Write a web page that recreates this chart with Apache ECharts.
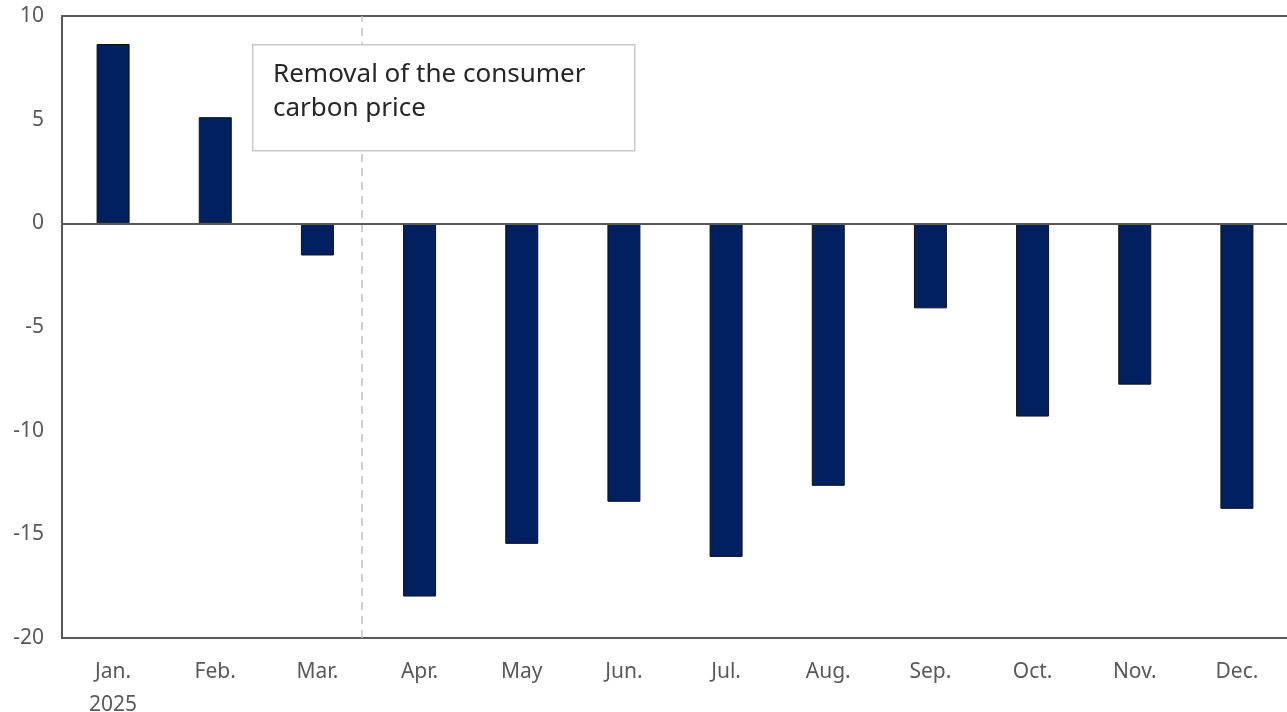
<!DOCTYPE html>
<html>
<head>
<meta charset="utf-8">
<script src="https://cdn.jsdelivr.net/npm/echarts@6/dist/echarts.min.js"></script>
<style>html,body{margin:0;padding:0;background:#fff}#c{width:1287px;height:712px}</style>
</head>
<body>
<div id="c"></div>
<script>
const categories = ['Jan.\n2025','Feb.','Mar.','Apr.','May','Jun.','Jul.','Aug.','Sep.','Oct.','Nov.','Dec.'];
const values = [8.65, 5.12, -1.55, -18.0, -15.46, -13.43, -16.09, -12.66, -4.1, -9.32, -7.78, -13.77];
const yTicks = { min: -20, max: 10, interval: 5 };
const policyLinePos = 2.93; // position between Mar. and Apr. (in category units)
const annotationText = 'Removal of the consumer\ncarbon price';

const chart = echarts.init(document.getElementById('c'));
const FONT = '"Noto Sans", sans-serif';
chart.setOption({
  animation: false,
  backgroundColor: '#fff',
  grid: { left: 62, top: 16, width: 1226, height: 622, show: true, borderColor: '#595959', borderWidth: 2, backgroundColor: 'transparent', containLabel: false, outerBoundsMode: 'none' },
  xAxis: [{
    type: 'category', data: categories,
    axisLine: { onZero: false, lineStyle: { color: '#595959', width: 2 } },
    axisTick: { show: false },
    axisLabel: { color: '#595959', fontSize: 21, fontFamily: FONT, margin: 18, lineHeight: 33 },
    splitLine: { show: false }
  }, {
    type: 'value', min: 0, max: 12, show: false, position: 'top'
  }],
  yAxis: {
    type: 'value', min: yTicks.min, max: yTicks.max, interval: yTicks.interval,
    axisLine: { show: true, lineStyle: { color: '#595959', width: 2 } },
    axisTick: { show: false },
    splitLine: { show: false },
    axisLabel: { color: '#595959', fontSize: 21, fontFamily: FONT, margin: 18 }
  },
  series: [{
    type: 'bar', data: values, barWidth: 33, z: 2,
    itemStyle: { color: '#002060', borderColor: '#111', borderWidth: 1 },
    markLine: {
      silent: true, symbol: 'none', label: { show: false },
      lineStyle: { color: '#595959', width: 2, type: 'solid' },
      data: [{ yAxis: 0 }]
    }
  }, {
    type: 'line', xAxisIndex: 1, data: [], z: 1,
    markLine: {
      silent: true, symbol: 'none', label: { show: false }, z: 1,
      lineStyle: { color: '#bfbfbf', width: 1.5, type: [8, 6] },
      data: [{ xAxis: policyLinePos }]
    }
  }],
  graphic: [{
    type: 'rect', left: 252, top: 44, z: 100, zlevel: 1,
    shape: { x: 0, y: 0, width: 382, height: 106 },
    style: { fill: '#ffffff', stroke: '#c8c8c8', lineWidth: 1.5 }
  }, {
    type: 'text', left: 273, top: 58, z: 101, zlevel: 1,
    style: { text: annotationText, fill: '#262626', fontSize: 26, fontFamily: FONT, lineHeight: 34 }
  }]
});
</script>
</body>
</html>
